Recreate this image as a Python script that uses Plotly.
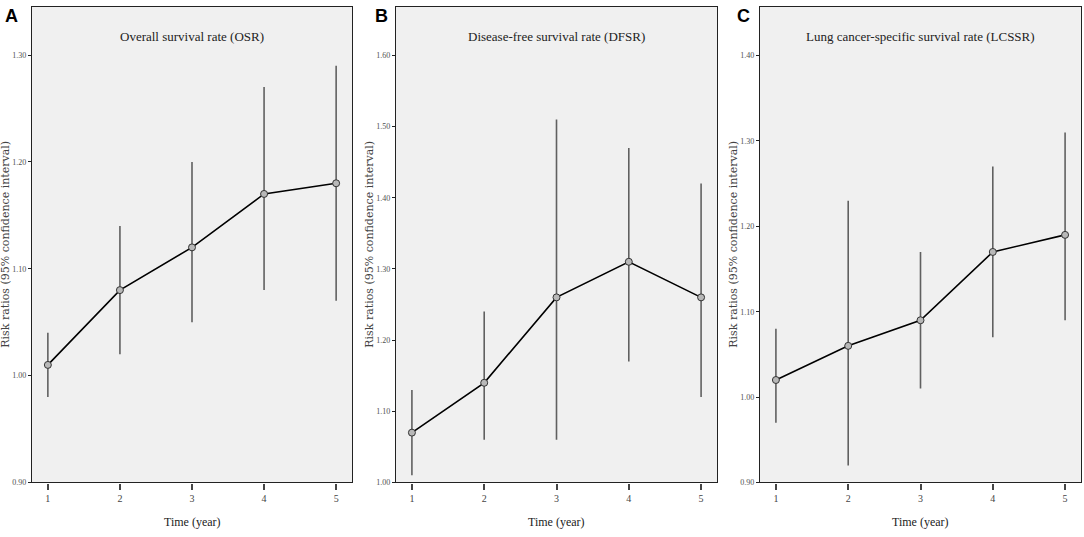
import plotly.graph_objects as go
from plotly.subplots import make_subplots

W, H = 1084, 537

years = [1, 2, 3, 4, 5]

osr_rr = [1.01, 1.08, 1.12, 1.17, 1.18]
osr_lo = [0.98, 1.02, 1.05, 1.08, 1.07]
osr_hi = [1.04, 1.14, 1.20, 1.27, 1.29]

dfsr_rr = [1.07, 1.14, 1.26, 1.31, 1.26]
dfsr_lo = [1.01, 1.06, 1.06, 1.17, 1.12]
dfsr_hi = [1.13, 1.24, 1.51, 1.47, 1.42]

lcssr_rr = [1.02, 1.06, 1.09, 1.17, 1.19]
lcssr_lo = [0.97, 0.92, 1.01, 1.07, 1.09]
lcssr_hi = [1.08, 1.23, 1.17, 1.27, 1.31]

panel_titles = ['Overall survival rate (OSR)',
                'Disease-free survival rate (DFSR)',
                'Lung cancer-specific survival rate (LCSSR)']
panel_letters = ['A', 'B', 'C']
y_ticks = [[0.90, 1.00, 1.10, 1.20, 1.30],
           [1.00, 1.10, 1.20, 1.30, 1.40, 1.50, 1.60],
           [0.90, 1.00, 1.10, 1.20, 1.30, 1.40]]
y_ranges = [[0.90, 1.345], [1.00, 1.668], [0.90, 1.457]]

series = [(osr_rr, osr_lo, osr_hi),
          (dfsr_rr, dfsr_lo, dfsr_hi),
          (lcssr_rr, lcssr_lo, lcssr_hi)]

# pixel boxes of the three plot areas
box_left = [32, 396, 760]
box_right = [352, 717, 1081]
box_top, box_bottom = 7, 487
letter_x = [3, 373, 735]

SERIF = 'Liberation Serif, Times New Roman, serif'

fig = make_subplots(rows=1, cols=3)

for i, (rr, lo, hi) in enumerate(series):
    up = [h - r for h, r in zip(hi, rr)]
    down = [r - l for r, l in zip(rr, lo)]
    fig.add_trace(go.Scatter(
        x=years, y=rr, mode='lines+markers',
        line=dict(color='black', width=1.6),
        marker=dict(symbol='circle', size=7, color='#b8b8b8',
                    line=dict(color='#333333', width=1)),
        error_y=dict(type='data', symmetric=False, array=up, arrayminus=down,
                     width=0, thickness=1.6, color='#606060'),
        showlegend=False), row=1, col=i + 1)

    ax = '' if i == 0 else str(i + 1)
    xd = [box_left[i] / W, box_right[i] / W]
    yd = [1 - box_bottom / H, 1 - box_top / H]
    fig.layout['xaxis' + ax].update(
        domain=xd, range=[0.78, 5.22], tickvals=years,
        showgrid=False, zeroline=False, showline=True, mirror=True,
        linecolor='#222222', linewidth=1.2,
        ticks='outside', ticklen=6, tickwidth=1.5, tickcolor='#444444',
        tickfont=dict(family=SERIF, size=10, color='#444444'))
    fig.layout['yaxis' + ax].update(
        domain=yd, range=y_ranges[i], tickvals=y_ticks[i], tickformat='.2f',
        showgrid=False, zeroline=False, showline=True, mirror=True,
        linecolor='#222222', linewidth=1.2,
        ticks='outside', ticklen=3, tickwidth=1, tickcolor='#222222',
        tickfont=dict(family=SERIF, size=8, color='#505050'))

    cx = (box_left[i] + box_right[i]) / 2 / W
    fig.add_annotation(text=panel_titles[i], x=cx, y=1 - 37 / H,
                       xref='paper', yref='paper', showarrow=False,
                       xanchor='center', yanchor='middle',
                       font=dict(family=SERIF, size=13, color='#222222'))
    fig.add_annotation(text='Time (year)', x=cx, y=1 - 527 / H,
                       xref='paper', yref='paper', showarrow=False,
                       xanchor='center', yanchor='middle',
                       font=dict(family=SERIF, size=12, color='#222222'))
    fig.add_annotation(text='Risk ratios (95% confidence interval)',
                       x=(box_left[i] - 26) / W, y=1 - 247 / H,
                       xref='paper', yref='paper', showarrow=False, textangle=-90,
                       xanchor='center', yanchor='middle',
                       font=dict(family='DejaVu Serif, serif', size=11, color='#444444'))
    fig.add_annotation(text='<b>' + panel_letters[i] + '</b>',
                       x=letter_x[i] / W, y=1 - 16 / H,
                       xref='paper', yref='paper', showarrow=False,
                       xanchor='left', yanchor='middle',
                       font=dict(family='Liberation Sans, Arial, sans-serif', size=18, color='black'))

fig.update_layout(width=W, height=H, margin=dict(l=0, r=0, t=0, b=0),
                  paper_bgcolor='white', plot_bgcolor='#f0f0f0')

fig.write_html('out.html', config={'displayModeBar': False},
               post_script="document.body.style.margin='0';")
